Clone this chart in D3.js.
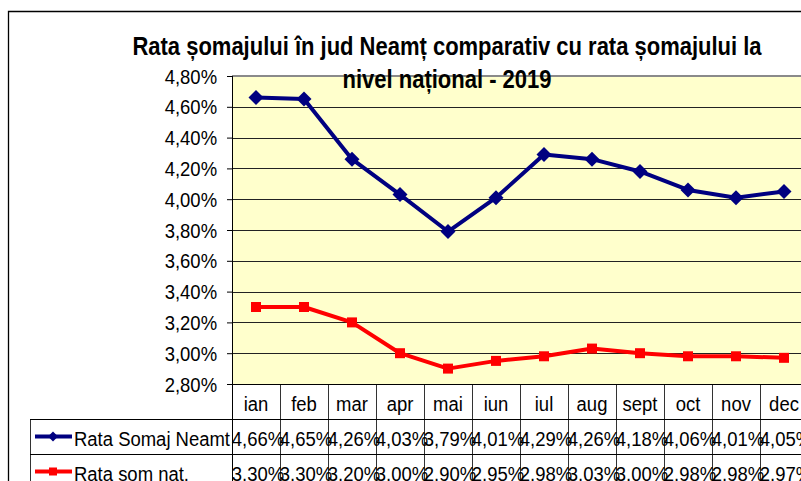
<!DOCTYPE html>
<html>
<head>
<meta charset="utf-8">
<script src="https://cdn.jsdelivr.net/npm/d3@7"></script>
<style>
  body { margin: 0; background: #fff; }
  svg { display: block; font-family: "Liberation Sans", Arial, sans-serif; }
</style>
</head>
<body>
<div id="chart"></div>
<script>
// data
const months = ["ian", "feb", "mar", "apr", "mai", "iun", "iul", "aug", "sept", "oct", "nov", "dec"];
const neamt = [4.66, 4.65, 4.26, 4.03, 3.79, 4.01, 4.29, 4.26, 4.18, 4.06, 4.01, 4.05];
const national = [3.30, 3.30, 3.20, 3.00, 2.90, 2.95, 2.98, 3.03, 3.00, 2.98, 2.98, 2.97];
const yTicks = [2.8, 3.0, 3.2, 3.4, 3.6, 3.8, 4.0, 4.2, 4.4, 4.6, 4.8];
const seriesNames = ["Rata Somaj Neamt", "Rata som nat."];
const titleLines = ["Rata șomajului în jud Neamț comparativ cu rata șomajului la", "nivel național - 2019"];

const W = 801, H = 481;
const plot = { left: 232, top: 76, right: 808, bottom: 384 };
const rowH = 35;
const NARROW = 0.88; // no Arial Narrow here, so squeeze Liberation Sans

const ro = d3.formatLocale({ decimal: ",", thousands: ".", grouping: [3], currency: ["", " lei"] });
const pct = ro.format(".2f");

const svg = d3.select("#chart").append("svg")
    .attr("width", W)
    .attr("height", H);

// text helper: places a squeezed text at (tx, ty)
function narrow(sel, tx, ty) {
    sel.attr("x", 0).attr("y", 0)
        .attr("transform", (d, i) => `translate(${tx(d, i)},${ty(d, i)}) scale(${NARROW},1)`);
    return sel;
}

// outer chart frame (cut off on the right and bottom)
svg.append("path")
    .attr("d", `M8.5,${H + 2}V11.5H${W + 2}`)
    .attr("fill", "none")
    .attr("stroke", "#000")
    .attr("stroke-width", 1.3);

const x = d3.scaleBand().domain(months).range([plot.left, plot.right]).padding(0);
const y = d3.scaleLinear().domain([2.8, 4.8]).range([plot.bottom, plot.top]);

// plot background
svg.append("rect")
    .attr("x", plot.left)
    .attr("y", plot.top)
    .attr("width", plot.right - plot.left)
    .attr("height", plot.bottom - plot.top)
    .attr("fill", "#ffffcc");

// gridlines
svg.append("g")
    .selectAll("line")
    .data(yTicks.filter(t => t > 2.85 && t < 4.75))
    .join("line")
    .attr("x1", plot.left)
    .attr("x2", plot.right)
    .attr("y1", d => Math.round(y(d)) + 0.5)
    .attr("y2", d => Math.round(y(d)) + 0.5)
    .attr("stroke", "#222")
    .attr("stroke-width", 1);

// top border of plot area
svg.append("line")
    .attr("x1", plot.left).attr("x2", plot.right)
    .attr("y1", y(4.8)).attr("y2", y(4.8))
    .attr("stroke", "#8a8a8a")
    .attr("stroke-width", 2);

// y axis
const yAxis = svg.append("g")
    .attr("transform", `translate(${plot.left},0)`)
    .call(d3.axisLeft(y).tickValues(yTicks).tickFormat(d => pct(d) + "%").tickSize(5).tickPadding(12));
yAxis.select(".domain").remove();
yAxis.selectAll(".tick line").attr("stroke", "#000");
yAxis.selectAll("text")
    .attr("fill", "#000")
    .attr("dy", "0.34em")
    .style("font-size", "21px")
    .style("font-family", "'Liberation Sans', Arial, sans-serif")
    .attr("transform", `scale(${NARROW},1)`);

// data table under the plot
const table = svg.append("g").attr("stroke", "#333").attr("stroke-width", 1);
table.selectAll(".vdiv")
    .data(months)
    .join("line")
    .attr("class", "vdiv")
    .attr("x1", d => Math.round(x(d) + x.bandwidth()) + 0.5)
    .attr("x2", d => Math.round(x(d) + x.bandwidth()) + 0.5)
    .attr("y1", plot.bottom)
    .attr("y2", H);
svg.append("line")
    .attr("x1", plot.left + 0.5).attr("x2", plot.left + 0.5)
    .attr("y1", plot.top).attr("y2", H)
    .attr("stroke", "#000");
table.append("line")
    .attr("x1", 30.5).attr("x2", 30.5)
    .attr("y1", plot.bottom + rowH).attr("y2", H);
table.selectAll(".hdiv")
    .data([1, 2])
    .join("line")
    .attr("class", "hdiv")
    .attr("x1", 30)
    .attr("x2", W)
    .attr("y1", d => plot.bottom + d * rowH + 0.5)
    .attr("y2", d => plot.bottom + d * rowH + 0.5)
    .attr("stroke", "#000");
svg.append("line")
    .attr("x1", plot.left).attr("x2", W)
    .attr("y1", plot.bottom + 0.5).attr("y2", plot.bottom + 0.5)
    .attr("stroke", "#000");

// month labels
svg.append("g")
    .selectAll("text")
    .data(months)
    .join("text")
    .attr("text-anchor", "middle")
    .style("font-size", "21px")
    .text(d => d)
    .call(narrow, d => x(d) + x.bandwidth() / 2, () => plot.bottom + 27);

const series = [
    { name: seriesNames[0], values: neamt, color: "#000080", marker: "diamond" },
    { name: seriesNames[1], values: national, color: "#ff0000", marker: "square" }
];

function markerPath(type) {
    if (type === "diamond") return "M0,-7.5L7.5,0L0,7.5L-7.5,0Z";
    return "M-5,-5H5V5H-5Z";
}

series.forEach((s, i) => {
    const rowY = plot.bottom + (i + 1) * rowH;

    // value cells
    svg.append("g")
        .selectAll("text")
        .data(s.values)
        .join("text")
        .attr("text-anchor", "middle")
        .style("font-size", "21px")
        .text(d => pct(d) + "%")
        .call(narrow, (d, j) => x(months[j]) + x.bandwidth() / 2 + 2, () => rowY + 27);

    // legend key + name
    const ky = rowY + rowH / 2;
    svg.append("line")
        .attr("x1", 35).attr("x2", 72)
        .attr("y1", ky).attr("y2", ky)
        .attr("stroke", s.color)
        .attr("stroke-width", 4);
    svg.append("path")
        .attr("d", s.marker === "diamond" ? "M0,-5L5,0L0,5L-5,0Z" : "M-4,-4H4V4H-4Z")
        .attr("transform", `translate(53,${ky})`)
        .attr("fill", s.color);
    svg.append("text")
        .style("font-size", "21px")
        .text(s.name)
        .call(narrow, () => 74, () => rowY + 27);

    // the series line and its markers
    const line = d3.line()
        .x((d, j) => x(months[j]) + x.bandwidth() / 2)
        .y(d => y(d));
    svg.append("path")
        .datum(s.values)
        .attr("d", line)
        .attr("fill", "none")
        .attr("stroke", s.color)
        .attr("stroke-width", 4)
        .attr("stroke-linejoin", "round");
    svg.append("g")
        .selectAll("path")
        .data(s.values)
        .join("path")
        .attr("d", markerPath(s.marker))
        .attr("transform", (d, j) => `translate(${x(months[j]) + x.bandwidth() / 2},${y(d)})`)
        .attr("fill", s.color);
});

// title
svg.append("g")
    .selectAll("text")
    .data(titleLines)
    .join("text")
    .attr("text-anchor", "middle")
    .style("font-size", "25px")
    .style("font-weight", "bold")
    .text(d => d)
    .call(narrow, () => 447, (d, i) => 55 + i * 33);
</script>
</body>
</html>
